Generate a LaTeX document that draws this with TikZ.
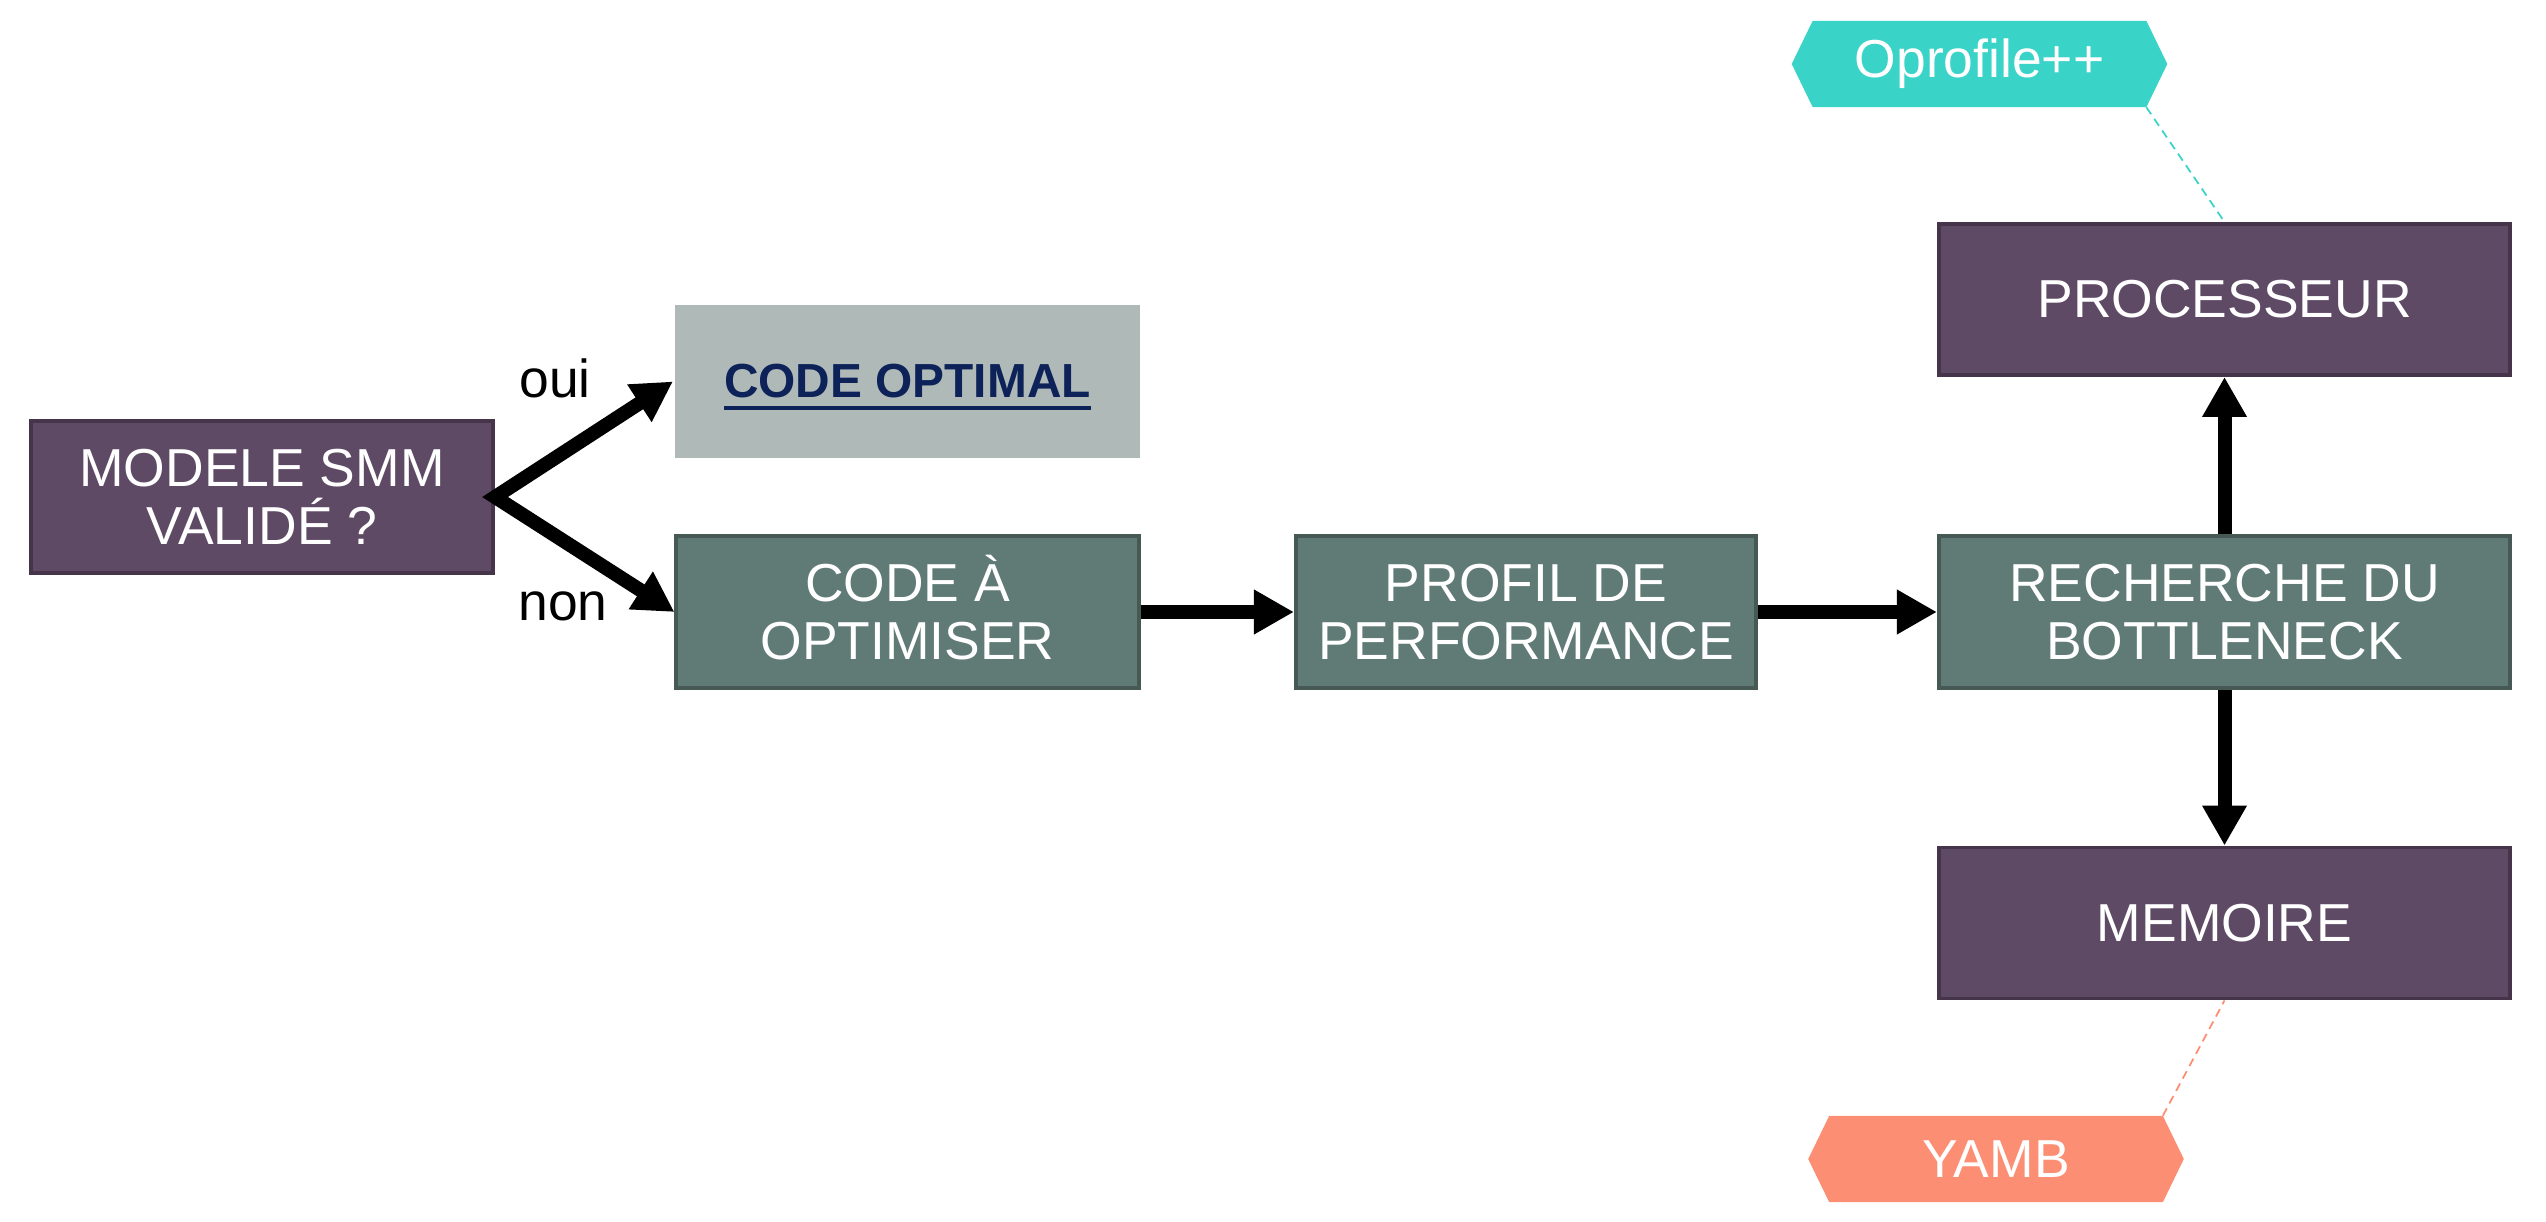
\documentclass[tikz,border=0pt]{standalone}
\usepackage{fontspec}
\setmainfont{Liberation Sans}
\usetikzlibrary{arrows.meta,calc}
\definecolor{purp}{HTML}{5F4A66}
\definecolor{purpd}{HTML}{45344A}
\definecolor{grn}{HTML}{607B76}
\definecolor{grnd}{HTML}{465955}
\definecolor{gry}{HTML}{AFBAB8}
\definecolor{navyc}{HTML}{0D2258}
\definecolor{tealc}{HTML}{3AD3C8}
\definecolor{salmonc}{HTML}{FC8E73}
\pgfdeclarelayer{bg}
\pgfsetlayers{bg,main}
\tikzset{
  txt/.style={font=\fontsize{15.2}{16.4}\selectfont},
  box/.style={txt, rectangle, inner sep=0pt, align=center, text=white,
    line width=1.1pt, minimum height=1.52cm},
  pbox/.style={box, fill=purp, draw=purpd},
  gbox/.style={box, fill=grn, draw=grnd},
  hexa/.style={txt, rectangle, inner sep=0pt, text=white, minimum width=3.32cm, minimum height=0.85cm},
  arr/.style={line width=0.14cm, -{Triangle[length=0.4cm,width=0.42cm]}},
  tie/.style={line width=0.5pt, dash pattern=on 2.4pt off 1.6pt}
}
\begin{document}
\begin{tikzpicture}[x=0.01cm,y=-0.01cm]
\useasboundingbox (0,0) rectangle (2546,1222);
% boxes
\node[pbox, minimum width=4.62cm] (modele) at (262,497) {MODELE SMM\\VALIDÉ ?};
\node[box, fill=gry, minimum width=4.65cm, minimum height=1.53cm, text=navyc,
  font=\fontsize{13.6}{15}\selectfont] (opt) at (907.5,381.5)
  {\setbox0\hbox{\bfseries CODE OPTIMAL}\rlap{\smash{\rule[-3.4pt]{\wd0}{1.1pt}}}\box0};
\node[gbox, minimum width=4.62cm] (aopt) at (907.5,612) {CODE \smash{À}\\OPTIMISER};
\node[gbox, minimum width=4.60cm] (profil) at (1526,612) {PROFIL DE\\PERFORMANCE};
\node[gbox, minimum width=5.71cm] (rech) at (2224.5,612) {RECHERCHE DU\\BOTTLENECK};
\node[pbox, minimum width=5.71cm, minimum height=1.51cm] (proc) at (2224.5,299.5) {PROCESSEUR};
\node[pbox, minimum width=5.71cm, minimum height=1.51cm] (mem) at (2224.5,923) {MEMOIRE};
% tags
\node[hexa] (oprof) at (1979.5,64) {Oprofile++};
\node[hexa] (yamb) at (1996,1159) {YAMB};
\begin{pgfonlayer}{bg}
\fill[tealc] (oprof.north west) -- (oprof.north east) -- ($(oprof.east)+(21,0)$) -- (oprof.south east) -- (oprof.south west) -- ($(oprof.west)+(-21,0)$) -- cycle;
\fill[salmonc] (yamb.north west) -- (yamb.north east) -- ($(yamb.east)+(21,0)$) -- (yamb.south east) -- (yamb.south west) -- ($(yamb.west)+(-21,0)$) -- cycle;
\end{pgfonlayer}
% labels
\node[txt] (oui) at (555,378) {oui};
\node[txt] (non) at (563,606) {non};
% connectors
\draw[line width=0.14cm, line join=miter, {Triangle[length=0.4cm,width=0.42cm]}-{Triangle[length=0.4cm,width=0.42cm]}]
  (opt.west) -- (modele.east) -- (aopt.west);
\draw[arr] (aopt.east) -- (profil.west);
\draw[arr] (profil.east) -- (rech.west);
\draw[arr] (rech.north) -- (proc.south);
\draw[arr] (rech.south) -- (mem.north);
\draw[tie, tealc] (oprof.south east) -- (proc.north);
\draw[tie, salmonc] (yamb.north east) -- (mem.south);
\end{tikzpicture}
\end{document}
